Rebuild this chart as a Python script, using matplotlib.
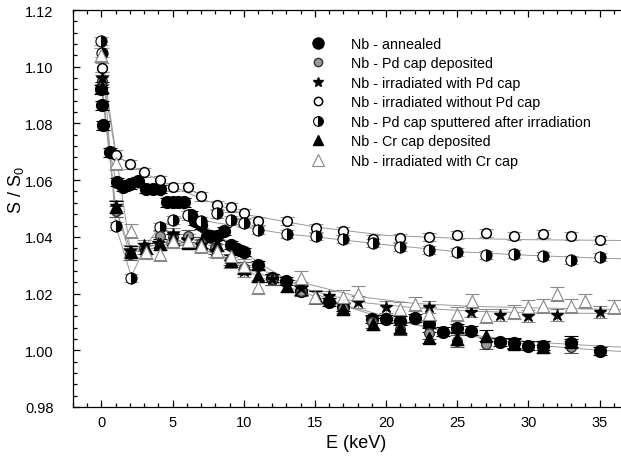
import matplotlib
matplotlib.use("Agg")
import matplotlib.pyplot as plt
from matplotlib.lines import Line2D
from matplotlib.ticker import MultipleLocator

plt.rcParams['font.family'] = ['Liberation Sans', 'DejaVu Sans']

# ---- data (E in keV, S/S0) ----
annealed_E = [0.0, 0.05, 0.1, 0.6, 1.1, 1.5, 2.0, 2.6, 3.1, 3.6, 4.1, 4.6, 5.0, 5.4, 5.8,
              6.3, 6.6, 7.0, 7.4, 7.7, 8.1, 8.6, 9.1, 9.5, 10.0, 11.0, 12.0, 13.0, 14.0,
              16.0, 17.0, 19.0, 20.0, 21.0, 22.0, 23.0, 24.0, 25.0, 26.0, 28.0, 29.0,
              30.0, 31.0, 33.0, 35.0]
annealed_S = [1.092, 1.0864, 1.0793, 1.0698, 1.0593, 1.0575, 1.0585, 1.0596, 1.0568, 1.0568,
              1.0568, 1.0522, 1.0522, 1.0522, 1.0522, 1.0477, 1.0456, 1.0441, 1.0403, 1.0403,
              1.0403, 1.042, 1.0371, 1.0357, 1.0346, 1.030, 1.0255, 1.0245, 1.021, 1.017,
              1.0153, 1.011, 1.011, 1.0105, 1.0114, 1.0093, 1.0066, 1.0079, 1.0069, 1.003,
              1.0024, 1.0016, 1.0016, 1.0026, 0.9998]

pd_dep_E = [0.05, 1.0, 2.0, 3.0, 4.1, 5.0, 6.05, 7.0, 8.0, 9.0, 10.0, 12.0, 14.0, 17.0,
            19.0, 21.0, 23.0, 25.0, 27.0, 33.0]
pd_dep_S = [1.095, 1.049, 1.034, 1.036, 1.0403, 1.040, 1.0403, 1.038, 1.036, 1.032, 1.029,
            1.025, 1.021, 1.015, 1.010, 1.0075, 1.0061, 1.0033, 1.0023, 1.0012]

irr_pd_E = [0.05, 1.0, 2.0, 3.0, 4.0, 5.0, 6.0, 7.0, 8.0, 9.0, 10.0, 12.0, 14.0, 16.0,
            18.0, 20.0, 23.0, 26.0, 28.0, 30.0, 32.0, 35.0]
irr_pd_S = [1.096, 1.051, 1.035, 1.037, 1.038, 1.041, 1.039, 1.037, 1.035, 1.031, 1.028,
            1.025, 1.022, 1.019, 1.017, 1.0153, 1.0153, 1.0136, 1.0125, 1.0121, 1.0125, 1.0135]

irr_nopd_E = [0.05, 1.0, 2.0, 3.0, 4.1, 5.05, 6.05, 7.0, 8.1, 9.1, 10.05, 11.0, 13.05,
              15.05, 17.0, 19.05, 21.0, 23.05, 25.0, 27.05, 29.0, 31.05, 33.0, 35.0]
irr_nopd_S = [1.0997, 1.069, 1.0656, 1.0627, 1.0599, 1.0575, 1.0575, 1.0543, 1.0511, 1.0504,
              1.0483, 1.0456, 1.0456, 1.043, 1.042, 1.0392, 1.0396, 1.0399, 1.0406, 1.0413,
              1.0403, 1.041, 1.0403, 1.0389]

sputt_E = [0.0, 0.05, 1.05, 2.1, 4.1, 5.05, 6.05, 7.0, 8.1, 9.1, 10.05, 11.0, 13.05, 15.05,
           17.0, 19.05, 21.0, 23.05, 25.0, 27.05, 29.0, 31.05, 33.0, 35.0]
sputt_S = [1.109, 1.105, 1.0438, 1.0255, 1.0434, 1.046, 1.0476, 1.0456, 1.0483, 1.046,
           1.0448, 1.0424, 1.041, 1.0403, 1.0392, 1.0378, 1.0364, 1.0353, 1.0346, 1.0336,
           1.034, 1.0332, 1.0318, 1.0329]

cr_dep_E = [0.05, 1.05, 2.1, 3.1, 4.1, 5.05, 6.05, 7.0, 8.1, 9.1, 10.05, 11.0, 13.05, 15.05,
            17.0, 19.05, 21.0, 23.05, 25.0, 27.05, 29.0, 31.05, 33.0]
cr_dep_S = [1.0927, 1.0505, 1.0346, 1.036, 1.0374, 1.039, 1.038, 1.038, 1.037, 1.0315, 1.029,
            1.0262, 1.0227, 1.0188, 1.0146, 1.0093, 1.008, 1.0044, 1.004, 1.0051, 1.0023,
            1.0012, 1.003]

irr_cr_E = [0.0, 1.0, 2.1, 3.1, 4.1, 5.05, 6.05, 7.0, 8.1, 9.1, 10.05, 11.0, 14.0, 15.0, 17.0,
            18.05, 21.0, 22.05, 23.05, 25.0, 26.05, 27.05, 29.0, 30.0, 31.05, 32.0, 33.0,
            34.0, 36.0]
irr_cr_S = [1.104, 1.066, 1.042, 1.0346, 1.034, 1.0385, 1.0385, 1.0367, 1.035, 1.0332, 1.0297,
            1.0223, 1.0255, 1.0188, 1.0188, 1.020, 1.0146, 1.0163, 1.0128, 1.0128, 1.0174,
            1.0121, 1.0135, 1.0153, 1.0156, 1.0199, 1.0156, 1.0174, 1.0153]

# fitted curves (thin gray lines)
fit_nopd_E = [0, 1, 2, 3, 5, 7, 10, 15, 20, 25, 30, 35, 37]
fit_nopd_S = [1.100, 1.069, 1.0655, 1.0625, 1.0578, 1.0535, 1.048, 1.0435, 1.0405, 1.0395,
              1.039, 1.0388, 1.0387]
fit_sputt_E = [0, 1, 2.1, 3, 4, 5, 6, 7, 8, 10, 13, 15, 20, 25, 30, 35, 37]
fit_sputt_S = [1.109, 1.044, 1.026, 1.036, 1.043, 1.046, 1.047, 1.046, 1.045, 1.0435, 1.041,
               1.040, 1.0372, 1.0348, 1.0335, 1.0325, 1.0322]
fit_ann_E = [0, 0.6, 1, 2, 3, 4, 5, 6, 7, 8, 9, 10, 11, 13, 15, 17, 20, 23, 26, 30, 35, 37]
fit_ann_S = [1.092, 1.070, 1.060, 1.058, 1.0565, 1.055, 1.052, 1.049, 1.045, 1.041, 1.038,
             1.035, 1.031, 1.025, 1.020, 1.016, 1.012, 1.008, 1.005, 1.002, 1.000, 0.9995]
fit_cr_E = [0, 1, 2, 3, 5, 7, 9, 11, 15, 20, 25, 30, 35, 37]
fit_cr_S = [1.093, 1.050, 1.034, 1.036, 1.039, 1.037, 1.032, 1.026, 1.019, 1.011, 1.006,
            1.003, 1.0015, 1.001]
fit_irrcr_E = [0, 2, 3, 5, 7, 10, 14, 18, 22, 26, 30, 35, 37]
fit_irrcr_S = [1.104, 1.036, 1.035, 1.038, 1.036, 1.030, 1.024, 1.019, 1.0165, 1.0155,
               1.015, 1.0145, 1.0143]
fit_irrpd_E = [0, 1, 2, 3, 5, 7, 10, 14, 18, 22, 26, 30, 35, 37]
fit_irrpd_S = [1.096, 1.050, 1.036, 1.036, 1.039, 1.036, 1.029, 1.022, 1.017, 1.015, 1.0138,
               1.0132, 1.013, 1.013]

labels = ["Nb - annealed", "Nb - Pd cap deposited", "Nb - irradiated with Pd cap",
          "Nb - irradiated without Pd cap", "Nb - Pd cap sputtered after irradiation",
          "Nb - Cr cap deposited", "Nb - irradiated with Cr cap"]
errors = [0.0015, 0.002, 0.002, 0.0015, 0.0015, 0.002, 0.0025]

fig = plt.figure(figsize=(6.21, 4.60), dpi=100)
ax = fig.add_axes([73 / 621, 52 / 460, 555 / 621, 397 / 460])

# fit lines first, below markers
for fe, fs in [(fit_nopd_E, fit_nopd_S), (fit_sputt_E, fit_sputt_S), (fit_ann_E, fit_ann_S),
               (fit_cr_E, fit_cr_S), (fit_irrcr_E, fit_irrcr_S), (fit_irrpd_E, fit_irrpd_S)]:
    ax.plot(fe, fs, color='#999999', lw=0.7, zorder=1)

styles = [
    dict(marker='o', ms=8.5, mfc='black', mec='black', ecolor='black'),
    dict(marker='o', ms=7, mfc='#9a9a9a', mec='#333333', ecolor='#555555'),
    dict(marker='*', ms=9, mfc='black', mec='black', ecolor='#888888'),
    dict(marker='o', ms=7, mfc='white', mec='black', mew=1.1, ecolor='#999999'),
    dict(marker='o', ms=8, mfc='black', mfcalt='white', fillstyle='right', mec='black',
         mew=0.8, ecolor='#999999'),
    dict(marker='^', ms=8, mfc='black', mec='black', ecolor='black'),
    dict(marker='^', ms=9, mfc='white', mec='#888888', mew=0.8, ecolor='#888888'),
]
series = [(annealed_E, annealed_S), (pd_dep_E, pd_dep_S), (irr_pd_E, irr_pd_S),
          (irr_nopd_E, irr_nopd_S), (sputt_E, sputt_S), (cr_dep_E, cr_dep_S),
          (irr_cr_E, irr_cr_S)]
order = [6, 5, 2, 1, 4, 3, 0]
for i in order:
    e, s = series[i]
    st = dict(styles[i])
    ecol = st.pop('ecolor')
    mfcalt = st.pop('mfcalt', None)
    ax.errorbar(e, s, yerr=errors[i], fmt='none', ecolor=ecol, elinewidth=0.8,
                capsize=4.8, capthick=0.8, zorder=2)
    kw = dict(st)
    if mfcalt is not None:
        kw['markerfacecoloralt'] = mfcalt
    ax.plot(e, s, ls='none', zorder=3 + (6 - order.index(i)) * 0.1, **kw)

# legend with proxy handles
leg_sizes = [8, 6, 7, 6, 7, 7, 8]
handles = []
for i, st in enumerate(styles):
    st = dict(st)
    st.pop('ecolor')
    mfcalt = st.pop('mfcalt', None)
    st['ms'] = leg_sizes[i]
    h = Line2D([], [], ls='none', **st)
    if mfcalt is not None:
        h.set_markerfacecoloralt(mfcalt)
    handles.append(h)
fig.legend(handles, labels, loc='upper left', bbox_to_anchor=(309 / 621, 1 - 38 / 460),
           frameon=False, fontsize=10.3, handlelength=1.2, handletextpad=1.75,
           labelspacing=0.38, borderaxespad=0, borderpad=0)

ax.set_xlim(-2, 37)
ax.set_ylim(0.98, 1.12)
ax.xaxis.set_major_locator(MultipleLocator(5))
ax.xaxis.set_minor_locator(MultipleLocator(1))
ax.yaxis.set_major_locator(MultipleLocator(0.02))
ax.yaxis.set_minor_locator(MultipleLocator(0.004))
ax.yaxis.set_major_formatter(matplotlib.ticker.FormatStrFormatter('%.2f'))
ax.tick_params(which='both', direction='in', top=True, right=False, labelsize=10.5,
               width=0.9)
ax.tick_params(axis='y', which='major', pad=14)
ax.tick_params(axis='x', which='major', pad=6)
ax.tick_params(which='major', length=5)
ax.tick_params(which='minor', length=3)
ax.spines['right'].set_visible(False)
for sp in ['left', 'bottom', 'top']:
    ax.spines[sp].set_linewidth(0.9)

ax.set_xlabel('E (keV)', fontsize=13)
ax.xaxis.set_label_coords(0.51, -0.068)
ax.set_ylabel('S / S$_\\mathregular{0}$', fontsize=13)
ax.yaxis.set_label_coords(-0.085, 0.55)

fig.savefig('out.png', dpi=100)
